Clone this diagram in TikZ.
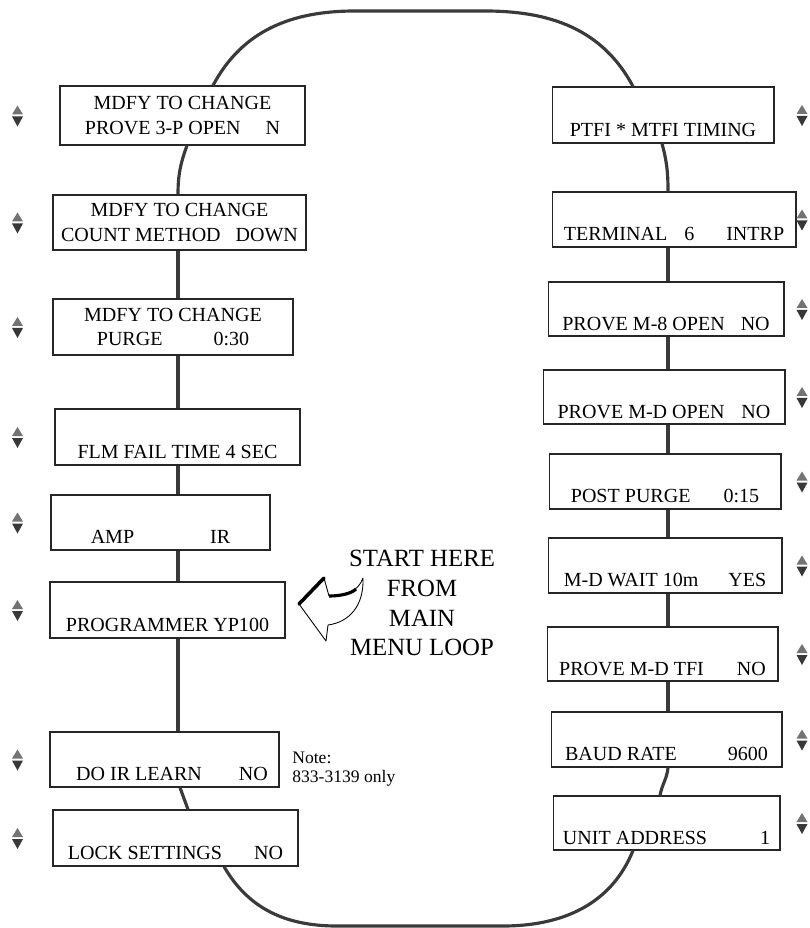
\documentclass[tikz,border=0pt]{standalone}
\usepackage{fontspec}
\setmainfont{Liberation Serif}
\usetikzlibrary{positioning,calc}

\definecolor{spinegray}{HTML}{3A3A3A}

\begin{document}
\begin{tikzpicture}[
    x=0.02cm, y=-0.02cm,
    box/.style={draw=black!85, line width=0.6pt, align=center, inner sep=0pt,
        font=\fontsize{11.4}{14.2}\selectfont},
    spine/.style={draw=spinegray, line width=1.8pt},
    updn/.pic={
        \fill[black!55] (-5.5,-1) -- (5.5,-1) -- (0,-10) -- cycle;
        \fill[black!78] (-5.5,1) -- (5.5,1) -- (0,11) -- cycle;
    }
]
\useasboundingbox (0,0) rectangle (809,928);

% left column
\node[box, minimum width=4.90cm, minimum height=1.18cm] (L1) at (182.5,115.5) {MDFY TO CHANGE\\PROVE 3-P OPEN\hspace{0.5cm}N};
\node[box, minimum width=5.06cm, minimum height=1.10cm] (L2) at (179.5,222.5) {MDFY TO CHANGE\\COUNT METHOD\hspace{0.3cm}DOWN};
\node[box, minimum width=4.80cm, minimum height=1.12cm] (L3) at (173,327) {MDFY TO CHANGE\\PURGE\hspace{1.02cm}0:30};
\node[box, minimum width=4.90cm, minimum height=1.12cm] (L4) at (177.5,437) {\strut\\FLM FAIL TIME 4 SEC};
\node[box, minimum width=4.38cm, minimum height=1.10cm] (L5) at (160.5,522.5) {\strut\\AMP\hspace{1.52cm}IR};
\node[box, minimum width=4.70cm, minimum height=1.12cm] (L6) at (167.5,610) {\strut\\PROGRAMMER YP100};
\node[box, minimum width=4.58cm, minimum height=1.10cm] (L7) at (164.5,759.5) {\strut\\\hspace*{0.3cm}DO IR LEARN\hspace{0.74cm}NO};
\node[box, minimum width=4.90cm, minimum height=1.12cm] (L8) at (175.5,838) {\strut\\LOCK SETTINGS\hspace{0.64cm}NO};

% right column
\node[box, minimum width=4.44cm, minimum height=1.12cm] (R1) at (663,115) {\strut\\PTFI * MTFI TIMING};
\node[box, minimum width=4.88cm, minimum height=1.10cm] (R2) at (674,219.5) {\strut\\TERMINAL\hspace{0.34cm}6\hspace{0.64cm}INTRP};
\node[box, minimum width=4.72cm, minimum height=1.08cm] (R3) at (666,309) {\strut\\PROVE M-8 OPEN\hspace{0.32cm}NO};
\node[box, minimum width=4.84cm, minimum height=1.08cm] (R4) at (664,397) {\strut\\PROVE M-D OPEN\hspace{0.34cm}NO};
\node[box, minimum width=4.64cm, minimum height=1.10cm] (R5) at (665,481.5) {\strut\\POST PURGE\hspace{0.66cm}0:15};
\node[box, minimum width=4.68cm, minimum height=1.10cm] (R6) at (665,565.5) {\strut\\M-D WAIT 10m\hspace{0.6cm}YES};
\node[box, minimum width=4.62cm, minimum height=1.08cm] (R7) at (662.5,654) {\strut\\PROVE M-D TFI\hspace{0.66cm}NO};
\node[box, minimum width=4.62cm, minimum height=1.10cm] (R8) at (666.5,739.5) {\strut\\BAUD RATE\hspace{1.02cm}9600};
\node[box, minimum width=4.54cm, minimum height=1.08cm] (R9) at (666.5,823) {\strut\\UNIT ADDRESS\hspace{1.06cm}1};

% texts
\node[font=\fontsize{14.1}{17}\selectfont, align=center] (start) at (422,603) {START HERE\\FROM\\MAIN\\MENU LOOP};
\node[font=\fontsize{10}{10.5}\selectfont, align=left, anchor=north west, inner sep=0pt] (note) at (292,752) {Note:\\833-3139 only};

% scroll marks
\coordinate (lx) at (17.5,0);
\coordinate (rx) at (802,0);
\foreach \b in {L1,L2,L3,L4,L5,L6,L7,L8}
    \pic at (lx |- \b) {updn};
\foreach \b in {R1,R2,R3,R4,R5,R6,R7,R8,R9}
    \pic at (rx |- \b) {updn};

% the loop
\coordinate (lsp) at (178,0);
\coordinate (rsp) at (668,0);
\coordinate (topL) at (355,11);
\coordinate (topR) at (485,11);
\coordinate (botL) at (337,926);
\coordinate (botR) at (503,926);

\draw[spine] ([xshift=0.61cm]L1.north) to[out=62,in=180] (topL) -- (topR) to[out=0,in=118] ([xshift=-0.6cm]R1.north);
\draw[spine] ([xshift=0.09cm]L1.south) to[out=-110,in=90] (lsp |- L2.north);
\foreach \a/\b in {L2/L3,L3/L4,L4/L5,L5/L6,L6/L7}
    \draw[spine] (lsp |- \a.south) -- (lsp |- \b.north);
\draw[spine] ([xshift=0.31cm]L7.south) -- ([xshift=0.25cm]L8.north);
\draw[spine] ([xshift=0.97cm]L8.south) to[out=-60,in=180] (botL) -- (botR) to[out=0,in=-112] ([xshift=-0.67cm]R9.south);
\draw[spine] ([xshift=-0.02cm]R1.south) to[out=-75,in=90] (rsp |- R2.north);
\foreach \a/\b in {R2/R3,R3/R4,R4/R5,R5/R6,R6/R7,R7/R8}
    \draw[spine] (rsp |- \a.south) -- (rsp |- \b.north);
\draw[spine] (rsp |- R8.south) to[out=-95,in=80] ([xshift=-0.13cm]R9.north);

% hollow arrow to the start screen
\draw[line width=0.5pt, line join=round] (299,604) -- (324,578) -- (329,596)
    .. controls (345,596) and (358,592) .. (363,578)
    .. controls (364,605) and (350,622) .. (328,625) -- (326,641) -- cycle;
\draw[line width=2pt, line cap=round] (299,604) -- (324,578);
\draw[line width=1.8pt] (329,596) .. controls (342,596) and (352,593) .. (356,589);
\end{tikzpicture}
\end{document}
